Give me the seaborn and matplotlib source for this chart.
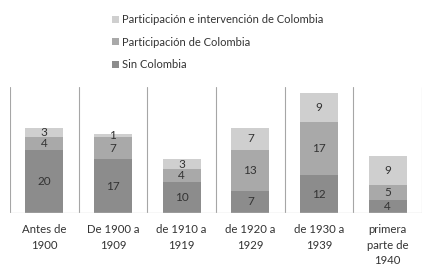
import matplotlib
matplotlib.use("Agg")
import matplotlib.pyplot as plt
import seaborn as sns
import pandas as pd
import numpy as np

categories = ["Antes de\n1900", "De 1900 a\n1909", "de 1910 a\n1919",
              "de 1920 a\n1929", "de 1930 a\n1939", "primera\nparte de\n1940"]
sin_colombia = [20, 17, 10, 7, 12, 4]
participacion = [4, 7, 4, 13, 17, 5]
participacion_intervencion = [3, 1, 3, 7, 9, 9]

series_names = ["Sin Colombia", "Participación de Colombia",
                "Participación e intervención de Colombia"]
series_values = [sin_colombia, participacion, participacion_intervencion]
colors = ["#8c8c8c", "#a9a9a9", "#cfcfcf"]

sns.set_style("white")
plt.rcParams['font.family'] = ['Lato', 'DejaVu Sans']

fig = plt.figure(figsize=(4.29, 2.67), dpi=100)
ax = fig.add_axes([10/429, 1-213/267, 412/429, 126/267])

bottom = np.zeros(len(categories))
for name, vals, col in zip(series_names, series_values, colors):
    df = pd.DataFrame({"cat": categories, "val": vals})
    sns.barplot(data=df, x="cat", y="val", bottom=bottom, color=col,
                width=0.55, ax=ax, label=name, saturation=1, linewidth=0)
    bottom = bottom + np.array(vals)

for cont in ax.containers:
    ax.bar_label(cont, label_type="center", fontsize=8.5, color="#333333")

ax.set_ylim(0, 40)
ax.set_xlim(-0.5, len(categories) - 0.5)
for xb in np.arange(-0.5, len(categories), 1.0):
    ax.axvline(xb, color="#a6a6a6", lw=0.8, zorder=0)
ax.axhline(0, color="#d9d9d9", lw=1.0, zorder=3)
for s in ax.spines.values():
    s.set_visible(False)
ax.set_yticks([])
ax.set_xlabel("")
ax.set_ylabel("")
ax.tick_params(axis="x", length=0, pad=8, labelsize=8.2, colors="#333333")
for t in ax.get_xticklabels():
    t.set_linespacing(1.5)
    t.set_verticalalignment("top")

h, l = ax.get_legend_handles_labels()
if ax.get_legend():
    ax.get_legend().remove()
fig.legend(h[::-1], l[::-1], loc="upper left", bbox_to_anchor=(112/429, 1-14/267),
           frameon=False, fontsize=8, handlelength=0.6, handleheight=0.6,
           handletextpad=0.3, labelspacing=1.05, borderpad=0, borderaxespad=0,
           labelcolor="#333333")

fig.savefig("out.png", dpi=100)
